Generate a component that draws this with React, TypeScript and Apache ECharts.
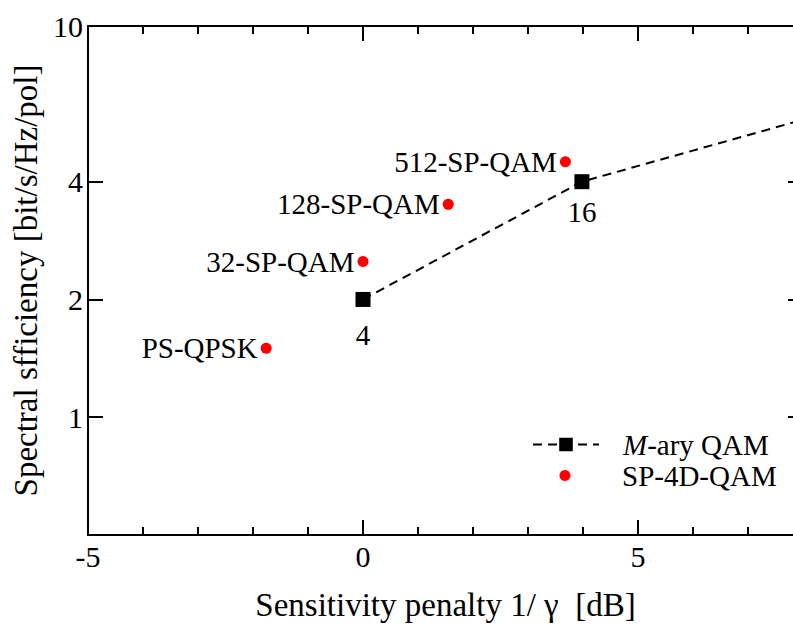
import React, { useEffect, useRef } from "react";
import * as echarts from "echarts";

// M-ary QAM (x: sensitivity penalty dB, y: spectral efficiency)
const qamNames = ["4", "16", "64"];
const qamX = [0, 3.98, 8.45];
const qamY = [2, 4, 6];

// SP-4D-QAM points
const spNames = ["PS-QPSK", "32-SP-QAM", "128-SP-QAM", "512-SP-QAM"];
const spX = [-1.76, 0, 1.55, 3.68];
const spY = [1.5, 2.5, 3.5, 4.5];

const xTickLabels = [-5, 0, 5];
const yTickLabels = [1, 2, 4, 10];

// label spacing below the QAM squares (style only)
const qamLabelGap = [14, 8, 8];

const FONT = "Liberation Serif";

export default function App() {
  const ref = useRef<HTMLDivElement>(null);
  useEffect(() => {
    if (!ref.current) return;
    const chart = echarts.init(ref.current, undefined, { renderer: "svg" });
    const lg = (v: number) => Math.log10(v);
    const yTicks = yTickLabels.map(lg);
    const axisLine = { show: true, onZero: false, lineStyle: { color: "#000", width: 2 } };
    const xCommon = {
      type: "value" as const,
      min: -5,
      max: 8,
      interval: 5,
      axisLine,
      splitLine: { show: false },
      axisTick: { inside: true, length: 15, lineStyle: { color: "#000", width: 2 } },
      minorTick: { show: true, splitNumber: 5, length: 8, lineStyle: { color: "#000", width: 2 } },
    };
    const yCommon = {
      type: "value" as const,
      min: lg(0.5),
      max: 1,
      axisLine,
      splitLine: { show: false },
      axisTick: {
        inside: true,
        length: 15,
        customValues: yTicks,
        lineStyle: { color: "#000", width: 2 },
      },
    };
    const legendText = (size: number) => ({
      fontSize: size,
      color: "#000",
      fontFamily: FONT,
      padding: [0, 0, 0, 19],
      lineHeight: 29,
      rich: {
        i: { fontSize: size, fontStyle: "italic", fontFamily: FONT, color: "#000", lineHeight: 29 },
        n: { fontSize: size, fontFamily: FONT, color: "#000", lineHeight: 29 },
      },
    });
    chart.setOption({
      animation: false,
      backgroundColor: "#fff",
      textStyle: { fontFamily: FONT },
      grid: { left: 88, right: 7, top: 26, bottom: 89 },
      xAxis: [
        {
          ...xCommon,
          position: "bottom",
          name: "Sensitivity penalty 1/ \u03b3 \u00a0[dB]",
          nameLocation: "middle",
          nameGap: 53,
          nameTextStyle: { fontSize: 33, color: "#000", fontFamily: FONT },
          axisLabel: {
            customValues: xTickLabels,
            margin: 6,
            fontSize: 30,
            color: "#000",
            fontFamily: FONT,
          },
        },
        {
          ...xCommon,
          position: "top",
          axisLabel: { show: false },
        },
      ],
      yAxis: [
        {
          ...yCommon,
          position: "left",
          name: "Spectral sfficiency [bit/s/Hz/pol]",
          nameLocation: "middle",
          nameGap: 44,
          nameTextStyle: { fontSize: 33, color: "#000", fontFamily: FONT },
          axisLabel: {
            customValues: yTicks,
            margin: 5,
            fontSize: 30,
            color: "#000",
            fontFamily: FONT,
            formatter: (v: number) => String(Math.round(Math.pow(10, v))),
          },
        },
        {
          ...yCommon,
          position: "right",
          axisLabel: { show: false },
        },
      ],
      legend: [
        {
          orient: "vertical",
          left: 532,
          top: 430,
          padding: 0,
          itemWidth: 66,
          itemHeight: 17,
          data: ["M-ary QAM"],
          formatter: () => "{i|M}{n|-ary QAM}",
          textStyle: legendText(29),
        },
        {
          orient: "vertical",
          left: 559.5,
          top: 461,
          padding: 0,
          itemWidth: 66,
          itemHeight: 11,
          data: ["SP-4D-QAM"],
          formatter: (name: string) => "{n|" + name + "}",
          textStyle: legendText(29),
        },
      ],
      series: [
        {
          name: "M-ary QAM",
          type: "line",
          data: qamX.map((x, i) => ({
            value: [x, lg(qamY[i])],
            name: qamNames[i],
            label: { distance: qamLabelGap[i] },
          })),
          symbol: "rect",
          symbolSize: 15,
          itemStyle: { color: "#000" },
          lineStyle: { color: "#000", width: 2, type: [9, 6] },
          label: {
            show: true,
            position: "bottom",
            distance: 7,
            formatter: (p: any) => p.name,
            fontSize: 29,
            color: "#000",
            fontFamily: FONT,
          },
          clip: true,
          z: 3,
        },
        {
          name: "SP-4D-QAM",
          type: "scatter",
          data: spX.map((x, i) => ({ value: [x, lg(spY[i])], name: spNames[i] })),
          symbol: "circle",
          symbolSize: 11,
          itemStyle: { color: "#ff0000", opacity: 1 },
          label: {
            show: true,
            position: "left",
            distance: 3,
            formatter: (p: any) => p.name,
            fontSize: 29,
            color: "#000",
            fontFamily: FONT,
          },
          z: 4,
        },
      ],
    });
    return () => chart.dispose();
  }, []);
  return (
    <div
      style={{
        position: "fixed",
        left: 0,
        top: 0,
        width: 793,
        height: 626,
        overflow: "hidden",
        background: "#fff",
      }}
    >
      <div ref={ref} style={{ width: 810, height: 626 }} />
    </div>
  );
}
